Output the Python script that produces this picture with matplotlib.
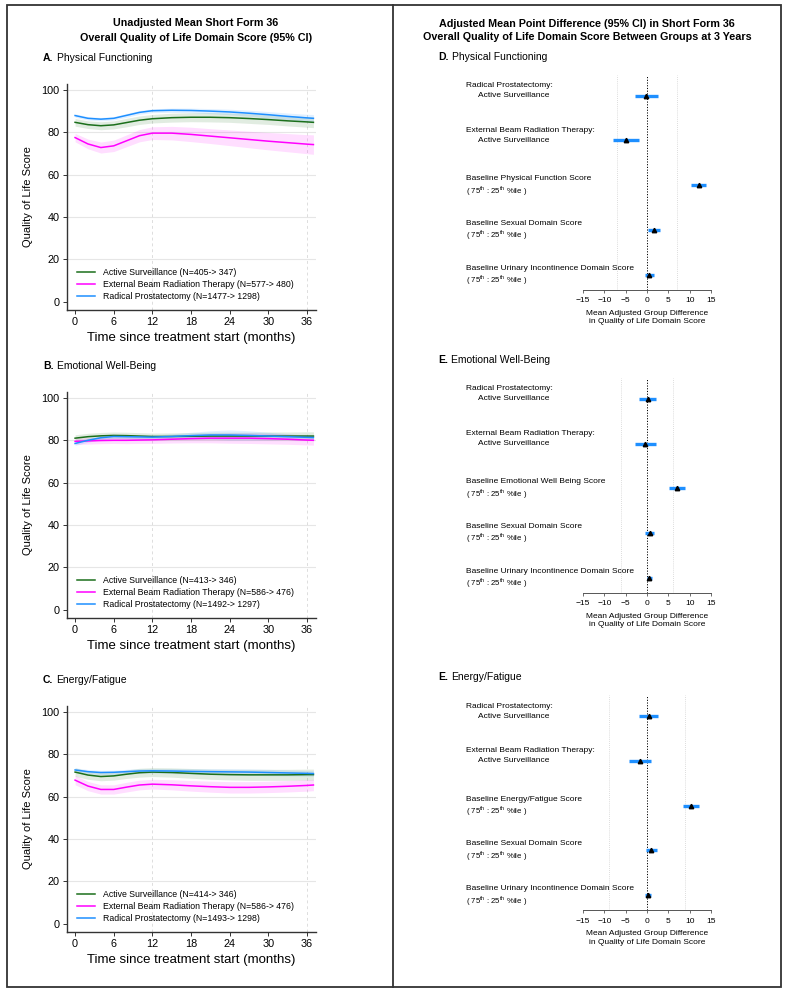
import matplotlib
matplotlib.use('Agg')
import matplotlib.pyplot as plt
import matplotlib.transforms as mtransforms
import numpy as np

plt.rcParams['font.family'] = ['Liberation Sans', 'DejaVu Sans']
plt.rcParams['mathtext.fontset'] = 'custom'
plt.rcParams['mathtext.rm'] = 'Liberation Sans'

# ---- left column: unadjusted mean scores over time ----
months = [0, 2, 4, 6, 8, 10, 12, 15, 18, 21, 24, 27, 30, 33, 36, 37]

pf_as = [84.7, 83.6, 83.1, 83.5, 84.6, 85.7, 86.4, 86.9, 87.1, 87.1, 86.9, 86.5, 86.0, 85.4, 84.9, 84.7]
pf_ebrt = [77.5, 74.5, 72.8, 73.6, 76.0, 78.4, 79.6, 79.6, 79.0, 78.2, 77.4, 76.6, 75.8, 75.1, 74.4, 74.2]
pf_rp = [87.9, 86.6, 86.2, 86.6, 88.0, 89.4, 90.2, 90.4, 90.3, 90.0, 89.6, 89.0, 88.3, 87.5, 86.8, 86.6]
pf_as_ci = [1.8, 1.8, 1.9, 1.9, 2.0, 2.0, 2.0, 2.1, 2.1, 2.2, 2.2, 2.3, 2.3, 2.4, 2.5, 2.5]
pf_ebrt_ci = [2.0, 2.3, 2.6, 2.7, 2.8, 2.9, 3.0, 3.2, 3.4, 3.5, 3.7, 3.9, 4.1, 4.3, 4.5, 4.6]
pf_rp_ci = [0.8, 0.8, 0.8, 0.8, 0.9, 0.9, 0.9, 1.0, 1.1, 1.2, 1.3, 1.4, 1.5, 1.6, 1.7, 1.8]

ew_as = [81.0, 81.7, 82.1, 82.3, 82.2, 82.0, 81.8, 81.8, 81.9, 82.0, 82.0, 82.0, 82.0, 82.0, 82.0, 82.0]
ew_ebrt = [79.5, 79.7, 79.9, 80.0, 80.0, 80.1, 80.2, 80.5, 80.8, 81.0, 81.0, 81.0, 80.8, 80.5, 80.1, 80.0]
ew_rp = [78.5, 80.0, 81.2, 81.8, 81.7, 81.6, 81.5, 81.8, 82.2, 82.5, 82.5, 82.3, 82.0, 81.7, 81.4, 81.3]
ew_as_ci = [1.6, 1.6, 1.6, 1.6, 1.6, 1.6, 1.6, 1.7, 1.7, 1.8, 1.8, 1.8, 1.9, 1.9, 2.0, 2.0]
ew_ebrt_ci = [1.5, 1.5, 1.5, 1.5, 1.6, 1.6, 1.7, 1.8, 2.0, 2.2, 2.4, 2.5, 2.5, 2.4, 2.3, 2.3]
ew_rp_ci = [0.9, 0.9, 0.9, 0.9, 0.9, 1.0, 1.0, 1.2, 1.6, 2.0, 2.4, 2.2, 1.8, 1.4, 1.1, 1.0]

ef_as = [71.6, 70.2, 69.5, 69.8, 70.6, 71.3, 71.6, 71.4, 71.0, 70.6, 70.4, 70.3, 70.3, 70.3, 70.4, 70.4]
ef_ebrt = [67.8, 65.0, 63.4, 63.4, 64.5, 65.5, 65.9, 65.6, 65.1, 64.7, 64.4, 64.4, 64.6, 64.9, 65.3, 65.5]
ef_rp = [72.6, 71.8, 71.4, 71.5, 71.8, 72.1, 72.2, 72.1, 71.9, 71.8, 71.7, 71.6, 71.4, 71.2, 71.0, 70.9]
ef_as_ci = [2.0, 2.0, 2.0, 2.0, 2.0, 2.1, 2.1, 2.2, 2.3, 2.4, 2.5, 2.6, 2.6, 2.6, 2.6, 2.6]
ef_ebrt_ci = [2.2, 2.2, 2.2, 2.2, 2.3, 2.3, 2.3, 2.4, 2.5, 2.6, 2.7, 2.7, 2.7, 2.7, 2.7, 2.7]
ef_rp_ci = [1.0, 1.0, 1.0, 1.0, 1.1, 1.1, 1.1, 1.2, 1.3, 1.4, 1.5, 1.5, 1.5, 1.4, 1.3, 1.3]

pf_legend = ['Active Surveillance (N=405-> 347)',
             'External Beam Radiation Therapy (N=577-> 480)',
             'Radical Prostatectomy (N=1477-> 1298)']
ew_legend = ['Active Surveillance (N=413-> 346)',
             'External Beam Radiation Therapy (N=586-> 476)',
             'Radical Prostatectomy (N=1492-> 1297)']
ef_legend = ['Active Surveillance (N=414-> 346)',
             'External Beam Radiation Therapy (N=586-> 476)',
             'Radical Prostatectomy (N=1493-> 1298)']

# ---- right column: adjusted differences at 3 years ----
pf_rows = [('Radical Prostatectomy:', 'Active Surveillance'),
           ('External Beam Radiation Therapy:', 'Active Surveillance'),
           ('Baseline Physical Function Score', None),
           ('Baseline Sexual Domain Score', None),
           ('Baseline Urinary Incontinence Domain Score', None)]
ew_rows = [('Radical Prostatectomy:', 'Active Surveillance'),
           ('External Beam Radiation Therapy:', 'Active Surveillance'),
           ('Baseline Emotional Well Being Score', None),
           ('Baseline Sexual Domain Score', None),
           ('Baseline Urinary Incontinence Domain Score', None)]
ef_rows = [('Radical Prostatectomy:', 'Active Surveillance'),
           ('External Beam Radiation Therapy:', 'Active Surveillance'),
           ('Baseline Energy/Fatigue Score', None),
           ('Baseline Sexual Domain Score', None),
           ('Baseline Urinary Incontinence Domain Score', None)]

pf_est = [-0.2, -5.0, 12.1, 1.6, 0.4]
pf_lo = [-2.7, -8.0, 10.4, 0.2, -0.5]
pf_hi = [2.5, -1.8, 13.9, 3.1, 1.6]
ew_est = [0.3, -0.4, 7.0, 0.7, 0.5]
ew_lo = [-1.8, -2.7, 5.2, -0.5, -0.1]
ew_hi = [2.2, 2.0, 8.8, 1.7, 1.2]
ef_est = [0.4, -1.7, 10.3, 1.0, 0.15]
ef_lo = [-1.9, -4.3, 8.5, -0.2, -0.5]
ef_hi = [2.6, 1.0, 12.1, 2.35, 1.0]
pf_ref = 7
ew_ref = 6
ef_ref = 9

W, H = 786, 992
fig = plt.figure(figsize=(W / 100, H / 100), dpi=100)

GREEN = '#1b6f1b'
MAGENTA = '#ff00ff'
BLUE = '#1e8fff'
SPINE = '#333333'


def px_axes(left, top, right, bottom):
    return fig.add_axes([left / W, 1 - bottom / H, (right - left) / W, (bottom - top) / H])


def fig_text(x, y, s, **kw):
    return fig.text(x / W, 1 - y / H, s, **kw)


# frame and divider
fig.add_artist(plt.Rectangle((7 / W, 1 - 987 / H), 774 / W, 982 / H, transform=fig.transFigure,
                             fill=False, ec='#333333', lw=1.3))
fig.add_artist(plt.Line2D([393 / W, 393 / W], [1 - 987 / H, 1 - 5 / H], transform=fig.transFigure,
                          color='#333333', lw=1.3))

head = dict(ha='center', va='center', fontweight='bold', family='Liberation Sans', fontsize=9)
heads = [fig_text(196, 23, 'Unadjusted Mean Short Form 36', **head),
         fig_text(196, 38, 'Overall Quality of Life Domain Score (95% CI)', **head),
         fig_text(587, 24, 'Adjusted Mean Point Difference (95% CI) in Short Form 36', **head),
         fig_text(587, 37, 'Overall Quality of Life Domain Score Between Groups at 3 Years', **head)]
# shrink header so the widest line fits inside the right column
fig.canvas.draw()
widest = heads[3].get_window_extent().width
for t in heads:
    t.set_fontsize(9 * min(1.0, 330 / widest))


def panel_title(x, y, letter, name):
    t = fig_text(x, y, letter, ha='left', va='center', fontsize=7.5, fontweight='bold')
    fig.canvas.draw()
    bb = t.get_window_extent()
    fig.text(bb.x1 / W + 0.004, 1 - y / H, name, ha='left', va='center', fontsize=7.5)


def trend_panel(top, series, cis, labels):
    ax = px_axes(66.7, top, 316, top + 226)
    colors = [GREEN, MAGENTA, BLUE]
    for ys, ci, c in zip(series, cis, colors):
        ys = np.array(ys)
        ci = np.array(ci)
        ax.fill_between(months, ys - ci, ys + ci, color=c, alpha=0.13, lw=0)
    for ys, c, lab in zip(series, colors, labels):
        ax.plot(months, ys, color=c, lw=1.1, label=lab)
    ax.set_xlim(-1.3, 37.4)
    ax.set_ylim(-3.9, 102.8)
    ax.set_xticks(range(0, 37, 6))
    ax.set_yticks(range(0, 101, 20))
    for v in range(20, 101, 20):
        ax.axhline(v, color='#e6e6e6', lw=0.8, zorder=0)
    for v in (12, 36):
        ax.axvline(v, color='#dddddd', lw=0.7, ls=(0, (3, 3)), zorder=0)
    for s in ('top', 'right'):
        ax.spines[s].set_visible(False)
    for s in ('left', 'bottom'):
        ax.spines[s].set_color(SPINE)
        ax.spines[s].set_linewidth(1.0)
    ax.tick_params(labelsize=7.8, length=3, width=0.7, color=SPINE, pad=2)
    ax.set_ylabel('Quality of Life Score', fontsize=8, labelpad=6)
    ax.set_xlabel('Time since treatment start (months)', fontsize=9.5, labelpad=4)
    ax.legend(loc='lower left', bbox_to_anchor=(0.025, 0.02), frameon=False, fontsize=6.3,
              borderpad=0, handlelength=2.0, handletextpad=0.9, labelspacing=0.35)
    return ax


panel_title(43, 58, 'A.', 'Physical Functioning')
trend_panel(84, [pf_as, pf_ebrt, pf_rp], [pf_as_ci, pf_ebrt_ci, pf_rp_ci], pf_legend)
panel_title(43, 366, 'B.', 'Emotional Well-Being')
trend_panel(392, [ew_as, ew_ebrt, ew_rp], [ew_as_ci, ew_ebrt_ci, ew_rp_ci], ew_legend)
panel_title(43, 680, 'C.', 'Energy/Fatigue')
trend_panel(706, [ef_as, ef_ebrt, ef_rp], [ef_as_ci, ef_ebrt_ci, ef_rp_ci], ef_legend)

PCT = '( 75$^{\\mathrm{th}}$ : 25$^{\\mathrm{th}}$ %ile )'


def forest_panel(bottom, rows, est, lo, hi, ref):
    ax = px_axes(583, bottom - 215, 711, bottom)
    ypos = [5, 4, 3, 2, 1]
    ax.set_xlim(-15, 15)
    ax.set_ylim(0.662, 5.47)
    for v in (-ref, ref):
        ax.axvline(v, color='#d0d0d0', lw=0.6, ls=(0, (1, 1.5)), zorder=0)
    ax.axvline(0, color='black', lw=0.7, ls=(0, (1.2, 1.6)), zorder=1)
    ax.hlines(ypos, lo, hi, color=BLUE, lw=2.4, zorder=2)
    ax.plot(est, ypos, '^', color='black', ms=3.2, zorder=3)
    for s in ('top', 'right', 'left'):
        ax.spines[s].set_visible(False)
    ax.spines['bottom'].set_color('#555555')
    ax.spines['bottom'].set_linewidth(0.7)
    ax.set_yticks([])
    ax.set_xticks(range(-15, 16, 5))
    ax.set_xticklabels(['\u221215', '\u221210', '\u22125', '0', '5', '10', '15'])
    ax.tick_params(axis='x', labelsize=6, length=2.5, width=0.6, color='#555555', pad=3)
    ax.set_xlabel('Mean Adjusted Group Difference\nin Quality of Life Domain Score',
                  fontsize=6, labelpad=4, linespacing=1.3)
    tr = mtransforms.blended_transform_factory(fig.transFigure, ax.transData)
    step = 1 / 44.7
    for y, (l1, l2) in zip(ypos, rows):
        if l2 is not None:
            ax.text(466 / W, y + 10 * step, l1, transform=tr, fontsize=6, va='center', ha='left')
            ax.text(478 / W, y, l2, transform=tr, fontsize=6, va='center', ha='left')
        else:
            ax.text(466 / W, y + 6.5 * step, l1, transform=tr, fontsize=6, va='center', ha='left')
            ax.text(466 / W, y - 5.5 * step, PCT, transform=tr, fontsize=5.6, va='center', ha='left')
    return ax


panel_title(438, 57, 'D.', 'Physical Functioning')
forest_panel(289.7, pf_rows, pf_est, pf_lo, pf_hi, pf_ref)
panel_title(438, 360, 'E.', 'Emotional Well-Being')
forest_panel(592.8, ew_rows, ew_est, ew_lo, ew_hi, ew_ref)
panel_title(438, 677, 'E.', 'Energy/Fatigue')
forest_panel(910.2, ef_rows, ef_est, ef_lo, ef_hi, ef_ref)

fig.savefig('out.png', dpi=100)
